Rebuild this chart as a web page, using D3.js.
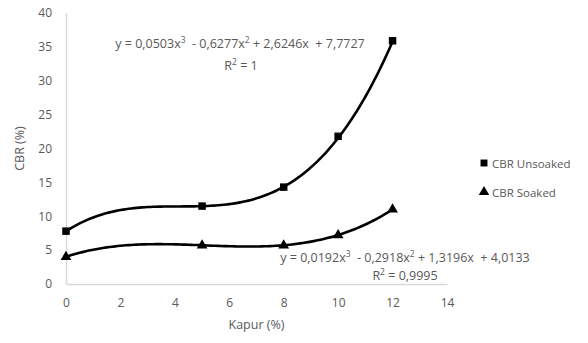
<!DOCTYPE html>
<html>
<head>
<meta charset="utf-8">
<script src="https://cdn.jsdelivr.net/npm/d3@7"></script>
<style>
  body { margin: 0; background: #fff; }
  text { font-family: "Open Sans", sans-serif; fill: #595959; }
</style>
</head>
<body>
<div id="chart"></div>
<script>
// kapur content (%) and measured CBR values
const kapur = [0, 5, 8, 10, 12];
const cbrUnsoaked = [7.8, 11.5, 14.3, 21.8, 35.9];
const cbrSoaked = [4.0, 5.7, 5.7, 7.2, 11.0];

// polynomial trendline coefficients shown on the chart (x^3, x^2, x, const)
const trendUnsoaked = [0.0503, -0.6277, 2.6246, 7.7727];
const trendSoaked = [0.0192, -0.2918, 1.3196, 4.0133];

const xTicks = [0, 2, 4, 6, 8, 10, 12, 14];
const yTicks = [0, 5, 10, 15, 20, 25, 30, 35, 40];

const width = 588, height = 343;
const margin = {top: 13, right: 141, bottom: 59, left: 66};

const svg = d3.select("#chart").append("svg")
  .attr("width", width)
  .attr("height", height);

const x = d3.scaleLinear().domain([0, 14]).range([margin.left, width - margin.right]);
const y = d3.scaleLinear().domain([0, 40]).range([height - margin.bottom, margin.top]);

// axes
const xAxis = svg.append("g")
  .attr("transform", `translate(0,${y(0)})`)
  .call(d3.axisBottom(x).tickValues(xTicks).tickSize(0).tickPadding(14));
const yAxis = svg.append("g")
  .attr("transform", `translate(${x(0)},0)`)
  .call(d3.axisLeft(y).tickValues(yTicks).tickSize(0).tickPadding(14));
[xAxis, yAxis].forEach(a => {
  a.select(".domain").attr("stroke", "#d9d9d9").attr("stroke-width", 1.5);
  a.selectAll("text").attr("font-size", 12).attr("fill", "#595959")
    .style("font-family", "'Open Sans', sans-serif");
});

svg.append("text")
  .attr("x", x(7)).attr("y", 329)
  .attr("text-anchor", "middle").attr("font-size", 12.5)
  .text("Kapur (%)");
svg.append("text")
  .attr("transform", `translate(24,${y(20)}) rotate(-90)`)
  .attr("text-anchor", "middle").attr("font-size", 12.5)
  .text("CBR (%)");

// trendlines
const poly = c => v => c[0] * v ** 3 + c[1] * v ** 2 + c[2] * v + c[3];
const xs = d3.range(0, 12.001, 0.1);
const line = d3.line().x(d => x(d[0])).y(d => y(d[1]));
[trendUnsoaked, trendSoaked].forEach(c => {
  const f = poly(c);
  svg.append("path")
    .datum(xs.map(v => [v, f(v)]))
    .attr("fill", "none")
    .attr("stroke", "#000")
    .attr("stroke-width", 2.6)
    .attr("d", line);
});

// markers
svg.append("g").selectAll("path")
  .data(kapur.map((k, i) => [k, cbrUnsoaked[i]]))
  .join("path")
  .attr("transform", d => `translate(${x(d[0])},${y(d[1])})`)
  .attr("d", d3.symbol(d3.symbolSquare, 56))
  .attr("fill", "#000");
svg.append("g").selectAll("path")
  .data(kapur.map((k, i) => [k, cbrSoaked[i]]))
  .join("path")
  .attr("transform", d => `translate(${x(d[0])},${y(d[1])})`)
  .attr("d", d3.symbol(d3.symbolTriangle, 50))
  .attr("fill", "#000");

// trendline equations: parts are [text, isSuperscript]
function equation(cx, yy, parts) {
  const t = svg.append("text")
    .attr("x", cx).attr("y", yy)
    .attr("text-anchor", "middle")
    .attr("font-size", 12.5)
    .attr("xml:space", "preserve");
  let raised = false;
  parts.forEach(([s, sup]) => {
    const sp = t.append("tspan").text(s);
    if (sup && !raised) { sp.attr("dy", -5).attr("font-size", 8.5); raised = true; }
    else if (sup) sp.attr("font-size", 8.5);
    else if (raised) { sp.attr("dy", 5); raised = false; }
  });
}
const fmt = v => d3.format(".4f")(Math.abs(v)).replace(".", ",");
const eqParts = c => [
  ["y = " + fmt(c[0]) + "x"], ["3", true],
  ["  - " + fmt(c[1]) + "x"], ["2", true],
  [" + " + fmt(c[2]) + "x  + " + fmt(c[3])]
];
equation(240, 48, eqParts(trendUnsoaked));
equation(241, 70, [["R"], ["2", true], [" = 1"]]);
equation(405, 262, eqParts(trendSoaked));
equation(405, 280, [["R"], ["2", true], [" = 0,9995"]]);

// legend
const series = ["CBR Unsoaked", "CBR Soaked"];
const symbols = [d3.symbolSquare, d3.symbolTriangle];
const legend = svg.append("g").attr("transform", "translate(484,163)");
series.forEach((s, i) => {
  const g = legend.append("g").attr("transform", `translate(0,${i * 29})`);
  g.append("path").attr("d", d3.symbol(symbols[i], 48)).attr("fill", "#000");
  g.append("text").attr("x", 8).attr("y", 4.5).attr("font-size", 11.5).text(s);
});
</script>
</body>
</html>
